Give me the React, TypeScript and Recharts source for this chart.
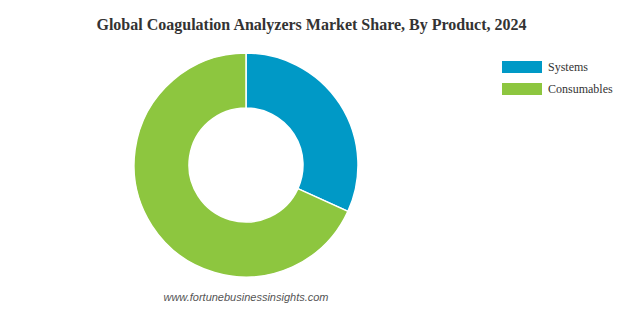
import { PieChart, Pie, Cell, Legend } from 'recharts';

const products = ['Systems', 'Consumables'];
const shares = [31.8, 68.2];
const COLORS = ['#0099c6', '#8dc63f'];

const data = products.map((name, i) => ({ name, value: shares[i] }));

const renderLegend = () => (
  <div style={{ fontFamily: '"Liberation Serif", "Times New Roman", serif', fontSize: 12, color: '#333' }}>
    {data.map((d, i) => (
      <div key={d.name} style={{ display: 'flex', alignItems: 'center', height: 22 }}>
        <span style={{ display: 'inline-block', width: 40, height: 12, background: COLORS[i], marginRight: 6 }} />
        <span>{d.name}</span>
      </div>
    ))}
  </div>
);

export default function App() {
  return (
    <div style={{ position: 'absolute', top: 0, left: 0, width: 623, height: 310, background: '#fff' }}>
      <div
        style={{
          position: 'absolute', top: 16, left: 0, width: 623, textAlign: 'center',
          fontFamily: '"Liberation Serif", "Times New Roman", serif', fontWeight: 'bold', fontSize: 16, color: '#333',
        }}
      >
        Global Coagulation Analyzers Market Share, By Product, 2024
      </div>
      <PieChart width={623} height={310} margin={{ top: 0, right: 0, bottom: 0, left: 0 }}>
        <Pie
          data={data}
          dataKey="value"
          nameKey="name"
          cx={246}
          cy={165}
          innerRadius={57}
          outerRadius={112}
          startAngle={90}
          endAngle={-270}
          stroke="#fff"
          strokeWidth={1.5}
          isAnimationActive={false}
        >
          {data.map((d, i) => (
            <Cell key={d.name} fill={COLORS[i]} />
          ))}
        </Pie>
        <Legend
          layout="vertical"
          align="right"
          verticalAlign="top"
          content={renderLegend}
          wrapperStyle={{ top: 56, left: 502, width: 121 }}
        />
      </PieChart>
      <div
        style={{
          position: 'absolute', top: 291, left: 146, width: 200, textAlign: 'center',
          fontFamily: 'Arial, "Liberation Sans", sans-serif', fontStyle: 'italic', fontSize: 11, color: '#555',
        }}
      >
        www.fortunebusinessinsights.com
      </div>
    </div>
  );
}
